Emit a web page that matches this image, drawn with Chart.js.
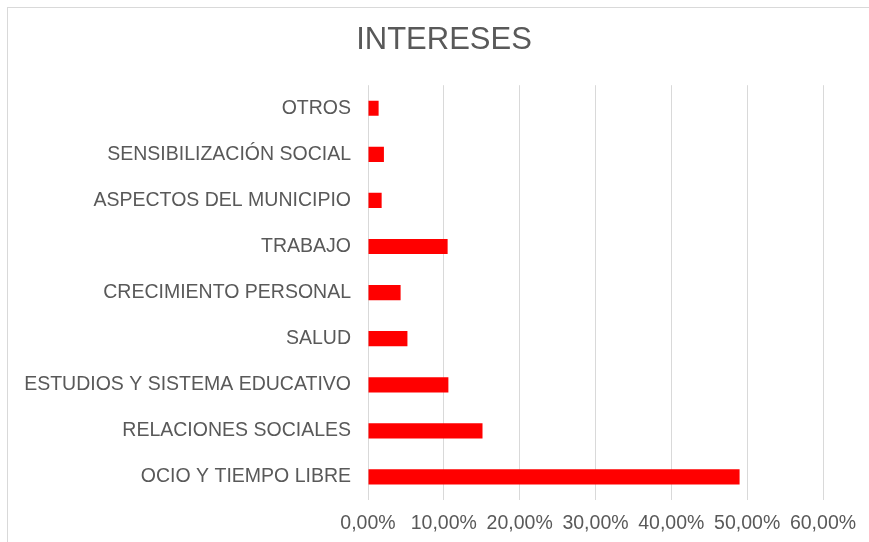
<!DOCTYPE html>
<html lang="es">
<head>
    <meta charset="UTF-8">
    <title>Intereses</title>
    <script src="https://cdn.jsdelivr.net/npm/chart.js"></script>
    <style>
        body {
            margin: 0;
            background: #fff;
        }

        .frame {
            position: absolute;
            left: 7px;
            top: 7px;
            width: 880px;
            height: 560px;
            border: 1px solid #d9d9d9;
        }

        .wrap {
            position: absolute;
            left: 0;
            top: 0;
            width: 869px;
            height: 542px;
        }
    </style>
</head>
<body>
    <div class="frame"></div>
    <div class="wrap">
        <canvas id="chart" width="869" height="542"></canvas>
    </div>

    <script>
        const categories = [
            'OTROS',
            'SENSIBILIZACIÓN SOCIAL',
            'ASPECTOS DEL MUNICIPIO',
            'TRABAJO',
            'CRECIMIENTO PERSONAL',
            'SALUD',
            'ESTUDIOS Y SISTEMA EDUCATIVO',
            'RELACIONES SOCIALES',
            'OCIO Y TIEMPO LIBRE'
        ];
        const percentages = [1.4, 2.1, 1.8, 10.5, 4.3, 5.2, 10.6, 15.1, 49.0];
        const axisMax = 60;
        const axisStep = 10;

        const labelColor = '#595959';
        const gridColor = '#d9d9d9';

        // the original title is centred on the whole frame, not on the padded chart
        const centreTitle = {
            id: 'centreTitle',
            afterLayout(chart) {
                const t = chart.titleBlock;
                if (!t) return;
                t.left = 19;
                t.right = 869;
                t.width = t.right - t.left;
            }
        };

        new Chart(document.getElementById('chart'), {
            type: 'bar',
            data: {
                labels: categories,
                datasets: [{
                    data: percentages,
                    backgroundColor: '#ff0000',
                    categoryPercentage: 1,
                    barPercentage: 0.33
                }]
            },
            options: {
                indexAxis: 'y',
                responsive: false,
                animation: false,
                layout: {
                    padding: { top: 0, left: 0, right: 46, bottom: 0 }
                },
                plugins: {
                    legend: { display: false },
                    tooltip: { enabled: false },
                    title: {
                        display: true,
                        text: 'INTERESES',
                        color: labelColor,
                        font: { family: 'Liberation Sans', size: 31, weight: 'normal' },
                        padding: { top: 22, bottom: 26 }
                    }
                },
                scales: {
                    x: {
                        min: 0,
                        max: axisMax,
                        ticks: {
                            stepSize: axisStep,
                            color: labelColor,
                            padding: 12,
                            maxRotation: 0,
                            autoSkip: false,
                            font: { family: 'Liberation Sans', size: 19.5 },
                            callback: v => v.toFixed(2).replace('.', ',') + '%'
                        },
                        grid: { color: gridColor, drawTicks: false },
                        border: { display: false },
                        afterFit: scale => { scale.height = 42; }
                    },
                    y: {
                        ticks: {
                            color: labelColor,
                            padding: 17,
                            font: { family: 'Liberation Sans', size: 19.5 }
                        },
                        grid: { display: false, drawTicks: false },
                        border: { display: false },
                        afterFit: scale => { scale.width = 368; }
                    }
                }
            },
            plugins: [centreTitle]
        });
    </script>
</body>
</html>
